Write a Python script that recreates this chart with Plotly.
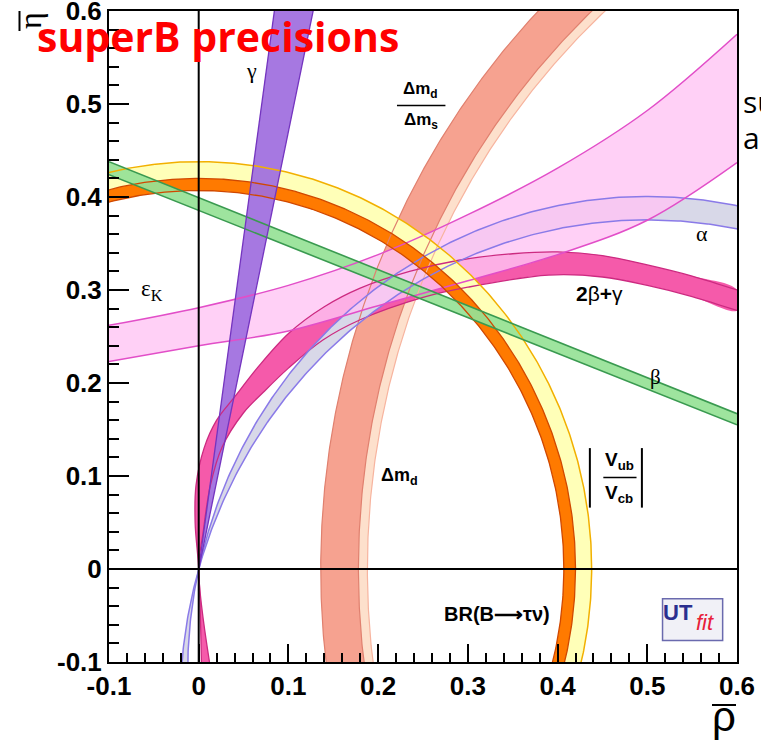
import numpy as np
import plotly.graph_objects as go

# ---------------------------------------------------------------- canvas
W, H = 761, 745
ML, MR, MT, MB = 109, 24, 11, 83
PW, PH = W - ML - MR, H - MT - MB

# ---------------------------------------------------------------- axes
rho_range = [-0.1, 0.6]
eta_range = [-0.1, 0.6]
tick_vals = [-0.1, 0.0, 0.1, 0.2, 0.3, 0.4, 0.5, 0.6]
tick_text = ["-0.1", "0", "0.1", "0.2", "0.3", "0.4", "0.5", "0.6"]

# ---------------------------------------------------------------- constraints
# |Vub/Vcb| : annuli centred on (0,0)
vub_orange_r = [0.407, 0.420]
vub_yellow_r = [0.420, 0.438]
# Delta m_d / Delta m_s and Delta m_d : annuli centred on (1,0)
dms_r = [0.822, 0.864]
dmd_r = [0.812, 0.822]
# alpha : inscribed-angle circles through (0,0) and (1,0), degrees
alpha_deg = [102.6, 106.2]
# gamma : wedge from the origin, degrees
gamma_deg = [78.0, 82.0]
# beta : band edges at the two ends of the rho axis
beta_rho = [-0.1, 0.6]
beta_upper = [0.438, 0.167]
beta_lower = [0.424, 0.155]
# epsilon_K : band edges
epsk_rho = [-0.1, 0.0, 0.1, 0.2, 0.3, 0.4, 0.5, 0.6]
epsk_upper = [0.262, 0.281, 0.305, 0.338, 0.381, 0.431, 0.493, 0.575]
epsk_lower = [0.223, 0.240, 0.256, 0.283, 0.310, 0.338, 0.375, 0.437]
# 2beta+gamma : band edges
b2g_outer_rho = [0.003, 0.0, -0.004, -0.003, 0.006, 0.020, 0.040, 0.066, 0.101,
                 0.140, 0.180, 0.235, 0.290, 0.350, 0.400, 0.450, 0.500, 0.550, 0.600]
b2g_outer_eta = [-0.1, 0.0, 0.05, 0.09, 0.13, 0.16, 0.185, 0.217, 0.254,
                 0.282, 0.302, 0.320, 0.332, 0.339, 0.341, 0.337, 0.327, 0.315, 0.300]
b2g_inner_rho = [0.012, 0.0, 0.005, 0.013, 0.026, 0.050, 0.072, 0.100, 0.138,
                 0.180, 0.250, 0.300, 0.390, 0.450, 0.500, 0.550, 0.600]
b2g_inner_eta = [-0.1, 0.0, 0.04, 0.09, 0.131, 0.168, 0.190, 0.216, 0.246,
                 0.268, 0.292, 0.303, 0.316, 0.314, 0.305, 0.293, 0.278]

# ---------------------------------------------------------------- colours
C_ORANGE, C_ORANGE_E = "#ff7a00", "#d04800"
C_YELLOW, C_YELLOW_E = "#ffffb8", "#f2b000"
C_SALMON, C_SALMON_E = "#f6a290", "#e0806f"
C_PEACH, C_PEACH_E = "#fde0cc", "#f7b49f"
C_ALPHA, C_ALPHA_E = "#d8d8e8", "#8a7ae8"
C_GAMMA, C_GAMMA_E = "rgba(158,108,222,0.92)", "#7434c0"
C_BETA, C_BETA_E = "rgba(150,226,150,0.92)", "#3a9a50"
C_EPSK, C_EPSK_E = "rgba(255,196,244,0.80)", "#e24ec8"
C_B2G, C_B2G_E = "#f55aaa", "#cc2a80"


def circle(cx, cy, r, phi0, phi1, n=400):
    phi = np.radians(np.linspace(phi0, phi1, n))
    return cx + r * np.cos(phi), cy + r * np.sin(phi)


def annulus(cx, cy, r_in, r_out, phi0, phi1):
    xo, yo = circle(cx, cy, r_out, phi0, phi1)
    xi, yi = circle(cx, cy, r_in, phi0, phi1)
    return np.concatenate([xo, xi[::-1]]), np.concatenate([yo, yi[::-1]])


def alpha_circle(a_deg, phi0=55, phi1=200):
    c = 0.5 / np.tan(np.radians(a_deg))
    r = np.hypot(0.5, c)
    return circle(0.5, c, r, phi0, phi1)


fig = go.Figure()


def fill(x, y, color, shape="linear"):
    fig.add_trace(go.Scatter(x=x, y=y, mode="lines", fill="toself", fillcolor=color,
                             line=dict(width=0, shape=shape), hoverinfo="skip",
                             showlegend=False))


def edge(x, y, color, width=1.5, shape="linear"):
    fig.add_trace(go.Scatter(x=x, y=y, mode="lines",
                             line=dict(color=color, width=width, shape=shape),
                             hoverinfo="skip", showlegend=False))


# ---- fills, back to front
fill(*annulus(1, 0, dmd_r[0], dms_r[1], 120, 195), C_PEACH)
fill(*annulus(1, 0, dms_r[0], dms_r[1], 120, 195), C_SALMON)

b2g_x = list(b2g_outer_rho) + list(b2g_inner_rho[::-1])
b2g_y = list(b2g_outer_eta) + list(b2g_inner_eta[::-1])
fill(b2g_x, b2g_y, C_B2G, shape="spline")

ax0, ay0 = alpha_circle(alpha_deg[0])
ax1, ay1 = alpha_circle(alpha_deg[1])
fill(np.concatenate([ax0, ax1[::-1]]), np.concatenate([ay0, ay1[::-1]]), C_ALPHA)

fig.add_trace(go.Scatter(x=epsk_rho, y=epsk_lower, mode="lines",
                         line=dict(width=0, shape="spline"), hoverinfo="skip",
                         showlegend=False))
fig.add_trace(go.Scatter(x=epsk_rho, y=epsk_upper, mode="lines", fill="tonexty",
                         fillcolor=C_EPSK, line=dict(width=0, shape="spline"),
                         hoverinfo="skip", showlegend=False))

fill(*annulus(0, 0, vub_orange_r[0], vub_yellow_r[1], -20, 110), C_YELLOW)
fill(*annulus(0, 0, vub_orange_r[0], vub_orange_r[1], -20, 110), C_ORANGE)

fill(beta_rho + beta_rho[::-1], beta_upper + beta_lower[::-1], C_BETA)

g_len = 0.75
gx = [0.0] + [g_len * np.cos(np.radians(g)) for g in gamma_deg]
gy = [0.0] + [g_len * np.sin(np.radians(g)) for g in gamma_deg]
fill(gx, gy, C_GAMMA)

# ---- band contours on top
for r in dms_r:
    edge(*circle(1, 0, r, 120, 195), C_SALMON_E, 1.2)
edge(*circle(1, 0, dmd_r[0], 120, 195), C_PEACH_E, 1.2)
edge(b2g_outer_rho, b2g_outer_eta, C_B2G_E, 1.3, "spline")
edge(b2g_inner_rho, b2g_inner_eta, C_B2G_E, 1.3, "spline")
edge(ax0, ay0, C_ALPHA_E, 1.5)
edge(ax1, ay1, C_ALPHA_E, 1.5)
edge(epsk_rho, epsk_upper, C_EPSK_E, 1.5, "spline")
edge(epsk_rho, epsk_lower, C_EPSK_E, 1.5, "spline")
edge(*circle(0, 0, vub_yellow_r[1], -20, 110), C_YELLOW_E, 1.5)
for r in vub_orange_r:
    edge(*circle(0, 0, r, -20, 110), C_ORANGE_E, 1.3)
edge(beta_rho, beta_upper, C_BETA_E, 1.6)
edge(beta_rho, beta_lower, C_BETA_E, 1.6)
for g in gamma_deg:
    edge([0.0, g_len * np.cos(np.radians(g))], [0.0, g_len * np.sin(np.radians(g))],
         C_GAMMA_E, 1.3)

# ---------------------------------------------------------------- labels
SANS = "Liberation Sans"
SERIF = "Liberation Serif"


def label(x, y, text, size=18, family=SANS, weight="normal", color="black",
          style="normal", xanchor="center", yanchor="middle", xref="x", yref="y",
          textangle=0, align="center"):
    fig.add_annotation(x=x, y=y, xref=xref, yref=yref, text=text, showarrow=False,
                       xanchor=xanchor, yanchor=yanchor, textangle=textangle,
                       align=align, borderpad=0,
                       font=dict(family=family, size=size, color=color,
                                 weight=weight, style=style))


def px_paper(px, py):
    return (px - ML) / PW, (H - MB - py) / PH


label(0.059, 0.536, "γ", size=22, family=SERIF)
label(0.2475, 0.515, "Δm<sub>d</sub>", size=17, weight="bold")
label(0.2475, 0.482, "Δm<sub>s</sub>", size=17, weight="bold")
label(0.561, 0.361, "α", size=22, family=SERIF)
label(-0.052, 0.300, "ε<sub>K</sub>", size=23, family=SERIF)
label(0.447, 0.296, "<b>2</b>β<b>+</b>γ", size=21, family=SANS)
label(0.509, 0.206, "β", size=21, family=SERIF)
label(0.224, 0.099, "Δm<sub>d</sub>", size=18, weight="bold")
label(0.469, 0.116, "V<sub>ub</sub>", size=19, weight="bold")
label(0.469, 0.081, "V<sub>cb</sub>", size=19, weight="bold")
label(0.333, -0.048, "BR(B⟶τν)", size=20, weight="bold")
label(0.534, -0.047, "UT", size=22, weight="bold", color="#2b2f8f")
label(0.564, -0.058, "fit", size=22, style="italic", color="#e8203a")

tx, ty = px_paper(36, 36)
label(tx, ty, "superB precisions", size=41, family="Open Sans", weight="bold",
      color="#ff0000", xanchor="left", xref="paper", yref="paper", align="left")
tx, ty = px_paper(742, 102)
label(tx, ty, "su", size=30, family="Open Sans", xanchor="left", xref="paper",
      yref="paper", align="left")
tx, ty = px_paper(742, 137)
label(tx, ty, "a", size=30, family="Open Sans", xanchor="left", xref="paper",
      yref="paper", align="left")
tx, ty = px_paper(30, 21)
label(tx, ty, "η", size=32, family=SERIF, textangle=-90, xref="paper", yref="paper")
tx, ty = px_paper(724, 716)
label(tx, ty, "ρ", size=42, family=SANS, xref="paper", yref="paper")


def pline(px0, py0, px1, py1, width=2):
    x0, y0 = px_paper(px0, py0)
    x1, y1 = px_paper(px1, py1)
    return dict(type="line", xref="paper", yref="paper", x0=x0, y0=y0, x1=x1, y1=y1,
                line=dict(color="black", width=width), layer="above")


# fraction bars, absolute-value bars, logo frame, title bars, reference axes
shapes = [
    dict(type="line", x0=0.221, x1=0.275, y0=0.4985, y1=0.4985, line=dict(color="black", width=1.5)),
    dict(type="line", x0=0.451, x1=0.488, y0=0.0985, y1=0.0985, line=dict(color="black", width=1.5)),
    dict(type="line", x0=0.436, x1=0.436, y0=0.066, y1=0.130, line=dict(color="black", width=2)),
    dict(type="line", x0=0.494, x1=0.494, y0=0.066, y1=0.130, line=dict(color="black", width=2)),
    dict(type="rect", x0=0.517, x1=0.584, y0=-0.077, y1=-0.032,
         line=dict(color="#6a6aae", width=1.5), fillcolor="#f1f1f7", layer="below"),
    dict(type="line", xref="x", yref="paper", x0=0, x1=0, y0=0, y1=1,
         line=dict(color="black", width=2), layer="above"),
    dict(type="line", xref="paper", yref="y", x0=0, x1=1, y0=0, y1=0,
         line=dict(color="black", width=2), layer="above"),
]
for s in shapes:
    s.setdefault("xref", "x")
    s.setdefault("yref", "y")
    s.setdefault("layer", "above")
shapes.append(pline(19.5, 11, 19.5, 31, 2))     # bar of eta-bar
shapes.append(pline(712, 705, 736, 705, 2))     # bar of rho-bar
fig.update_layout(shapes=shapes)

axis_common = dict(
    tickmode="array", tickvals=tick_vals, ticktext=tick_text,
    ticks="inside", tickwidth=2, tickcolor="black",
    showline=True, linecolor="black", linewidth=2, mirror=True,
    showgrid=False, zeroline=False, layer="above traces",
    ticklabeloverflow="allow", automargin=False,
    tickfont=dict(family=SANS, size=26, color="black", weight="bold"),
)
fig.update_xaxes(range=rho_range, ticklen=18,
                 minor=dict(tickmode="linear", tick0=0, dtick=0.02, ticks="inside",
                            ticklen=9, tickwidth=1.5, tickcolor="black"),
                 **axis_common)
fig.update_yaxes(range=eta_range, ticklen=20,
                 minor=dict(tickmode="linear", tick0=0, dtick=0.02, ticks="inside",
                            ticklen=10, tickwidth=1.5, tickcolor="black"),
                 **axis_common)

fig.update_layout(
    width=W, height=H,
    margin=dict(l=ML, r=MR, t=MT, b=MB, pad=0, autoexpand=False),
    paper_bgcolor="white", plot_bgcolor="white",
    showlegend=False,
)

fig.write_html("out.html")
